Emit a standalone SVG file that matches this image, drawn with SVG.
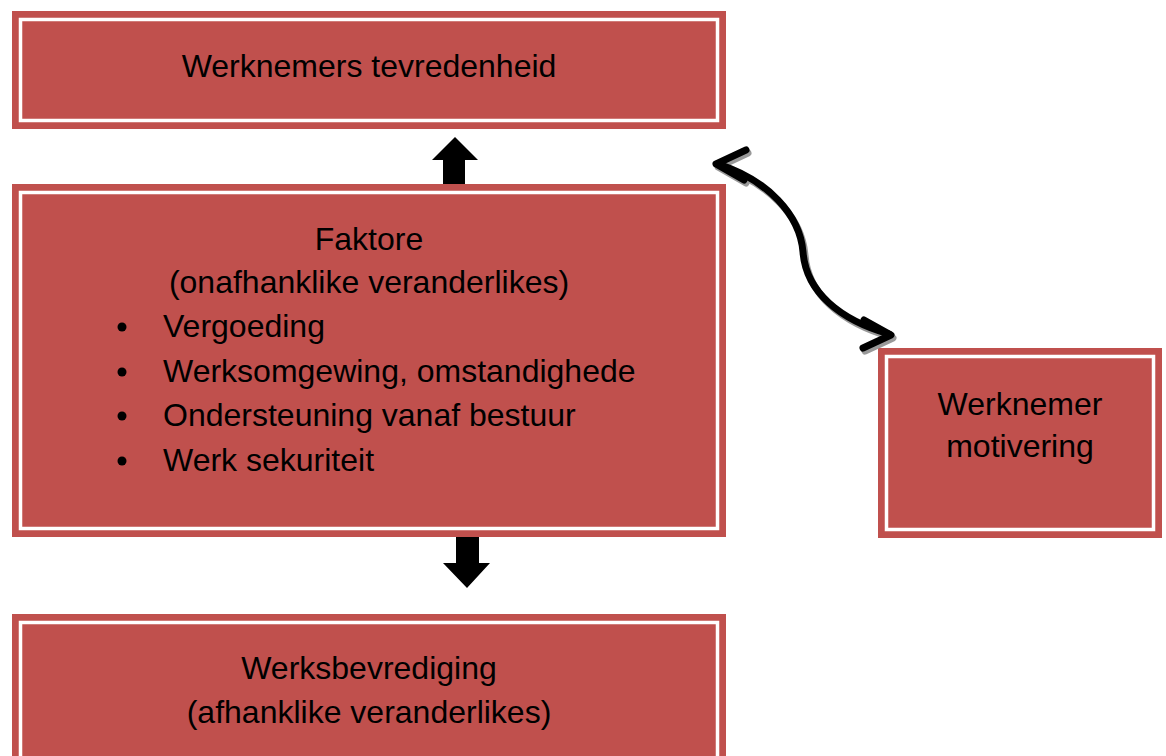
<svg xmlns="http://www.w3.org/2000/svg" width="1166" height="756" viewBox="0 0 1166 756">
<defs>
<style>
.box{fill:#C0504D;}
.inner{fill:none;stroke:#FFFFFF;stroke-width:3.5;}
.t{font-family:"Liberation Sans",Arial,sans-serif;font-size:32px;fill:#000;}
.c{text-anchor:middle;}
.curve{fill:none;stroke:#000;stroke-width:7;stroke-linecap:round;stroke-linejoin:round;}
.shadow{fill:none;stroke:#999;stroke-width:7;stroke-linecap:round;stroke-linejoin:round;}
</style>
</defs>
<rect width="1166" height="756" fill="#FFFFFF"/>
<g id="node-tevredenheid">
<rect class="box" x="12" y="11" width="714" height="118"/>
<rect class="inner" x="20.5" y="19.5" width="697" height="101"/>
<text class="t c" x="369" y="77">Werknemers tevredenheid</text>
</g>
<g id="node-faktore">
<rect class="box" x="12" y="184" width="714" height="353"/>
<rect class="inner" x="20.5" y="192.5" width="697" height="336"/>
<text class="t c" x="369" y="250">Faktore</text>
<text class="t c" x="369" y="293">(onafhanklike veranderlikes)</text>
<circle cx="122" cy="327" r="4.5"/>
<circle cx="122" cy="372" r="4.5"/>
<circle cx="122" cy="416" r="4.5"/>
<circle cx="122" cy="461" r="4.5"/>
<text class="t" x="163" y="337">Vergoeding</text>
<text class="t" x="163" y="382">Werksomgewing, omstandighede</text>
<text class="t" x="163" y="426">Ondersteuning vanaf bestuur</text>
<text class="t" x="163" y="471">Werk sekuriteit</text>
</g>
<g id="node-werksbevrediging">
<rect class="box" x="12" y="614" width="714" height="150"/>
<rect class="inner" x="20.5" y="622.5" width="697" height="150"/>
<text class="t c" x="369" y="679">Werksbevrediging</text>
<text class="t c" x="369" y="723">(afhanklike veranderlikes)</text>
</g>
<g id="node-motivering">
<rect class="box" x="878" y="348" width="284" height="190"/>
<rect class="inner" x="886.5" y="356.5" width="267" height="173"/>
<text class="t c" x="1020" y="415">Werknemer</text>
<text class="t c" x="1020" y="457">motivering</text>
</g>
<g id="connectors">
<polygon points="443,184 443,160 432,160 455,137 478,160 465,160 465,184" fill="#000"/>
<polygon points="456,537 456,563 443,563 467,588 490,563 479,563 479,537" fill="#000"/>
<g transform="translate(2,3)">
<path class="shadow" d="M718,164 C768,180 800,215 803,252 C806,292 840,320 889,334"/>
<path class="shadow" d="M746,150 L716,164 L744,180"/>
<path class="shadow" d="M864,320 L891,335 L863,348"/>
</g>
<path class="curve" d="M718,164 C768,180 800,215 803,252 C806,292 840,320 889,334"/>
<path class="curve" d="M746,150 L716,164 L744,180"/>
<path class="curve" d="M864,320 L891,335 L863,348"/>
</g>
</svg>
